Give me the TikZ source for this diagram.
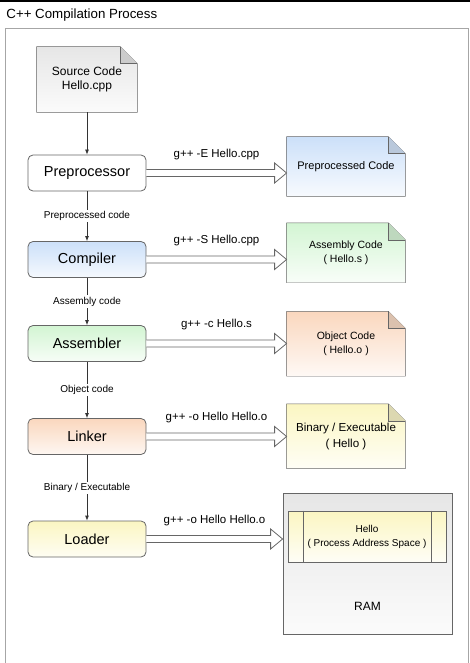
\documentclass[tikz,border=0pt]{standalone}
\usepackage{fontspec}
\setmainfont{Liberation Sans}
\usetikzlibrary{arrows.meta}
\usetikzlibrary{positioning}
\usetikzlibrary{calc}
\usetikzlibrary{backgrounds}

\definecolor{edge}{HTML}{666666}
\definecolor{grayT}{HTML}{E6E6E6}
\definecolor{blueT}{HTML}{CCE0F9}
\definecolor{greenT}{HTML}{D3F5D3}
\definecolor{orangeT}{HTML}{FAD7BE}
\definecolor{yellowT}{HTML}{FBF6C2}

% body of a note, drawn behind its text
\newcommand{\notebody}[2]{%
  \path[draw=edge, top color=#2, bottom color=#2!15!white]
    (#1.north west) -- ([xshift=-17pt]#1.north east) -- ([yshift=-17pt]#1.north east)
    -- (#1.south east) -- (#1.south west) -- cycle;
  \path[draw=edge, fill=#2!75!gray]
    ([xshift=-17pt]#1.north east) -- ([xshift=-17pt,yshift=-17pt]#1.north east)
    -- ([yshift=-17pt]#1.north east);
}
% hollow arrow with its command
\newcommand{\flowarrow}[3]{%
  \draw[draw=edge, fill=white] let \p1=(#1.east), \p2=(#2.west) in
    (\x1,\y1+3.5pt) -- (\x2-12pt,\y1+3.5pt) -- (\x2-12pt,\y1+10pt) -- (\x2,\y1)
    -- (\x2-12pt,\y1-10pt) -- (\x2-12pt,\y1-3.5pt) -- (\x1,\y1-3.5pt);
  \path (#1.east) -- (#1.east -| #2.west) node[midway, above=13pt, cmd] {#3};
}

\begin{document}
\begin{tikzpicture}[x=1pt,y=-1pt,line width=0.8pt,
  stage/.style={draw=edge, rounded corners=5pt, minimum width=118pt, minimum height=36pt,
    font=\fontsize{14.5}{17}\selectfont},
  doc/.style={minimum width=118pt, align=center, font=\fontsize{10.5}{13.5}\selectfont},
  link/.style={-{Latex[length=5pt,width=4pt]}, draw=black!80},
  lbl/.style={fill=white, inner sep=1.5pt, font=\fontsize{10}{12}\selectfont},
  cmd/.style={inner sep=0pt, font=\fontsize{11.5}{13}\selectfont}]
	\useasboundingbox (0,0) rectangle (470,663);

	% frame and title
	\draw[line width=2pt] (0,1) -- (470,1);
	\node[anchor=west, inner sep=0pt, font=\fontsize{13.3}{15}\selectfont] (title) at (6,15) {C++ Compilation Process};
	\draw[gray!70] (5.5,666) -- (5.5,28) -- (468,28) -- (468,666);

	% stages
	\node[doc, minimum width=100pt, minimum height=65pt, font=\fontsize{12}{14}\selectfont] (src) at (87,79.5) {Source Code\\Hello.cpp};
	\node[stage, fill=white] (pre) at (87,173) {Preprocessor};
	\node[stage, top color=blueT, bottom color=blueT!20!white] (comp) at (87,259.5) {Compiler};
	\node[stage, top color=greenT, bottom color=greenT!20!white] (asm) at (87,343.5) {Assembler};
	\node[stage, top color=orangeT, bottom color=orangeT!20!white] (lnk) at (87,436.5) {Linker};
	\node[stage, top color=yellowT, bottom color=yellowT!20!white] (load) at (87,539) {Loader};

	% outputs
	\node[doc, minimum height=59pt, font=\fontsize{11}{13}\selectfont] (ppc) at (346,166.5) {Preprocessed Code};
	\node[doc, minimum height=59pt] (asc) at (346,252.8) {Assembly Code\\( Hello.s )};
	\node[doc, minimum height=64pt] (obj) at (346,343.8) {Object Code\\( Hello.o )};
	\node[doc, minimum height=64pt, font=\fontsize{11.6}{16}\selectfont] (bin) at (346,436.2) {Binary / Executable\\( Hello )};

	\node[draw=edge, top color=grayT, bottom color=grayT!15!white, minimum width=169pt, minimum height=141pt] (ram) at (367.5,563.5) {};
	\node[font=\fontsize{12}{14}\selectfont, inner sep=0pt, above=23.5pt of ram.south] (ramlbl) {RAM};
	\node[draw=edge, top color=yellowT, bottom color=yellowT!15!white, minimum width=158pt, minimum height=51pt,
	  align=center, font=\fontsize{10}{14}\selectfont] (hello) at (367,536.5) {Hello\\( Process Address Space )};
	\draw[edge] ([xshift=16pt]hello.north west) -- ([xshift=16pt]hello.south west);
	\draw[edge] ([xshift=-15pt]hello.north east) -- ([xshift=-15pt]hello.south east);

	% flow down the stages
	\draw[link] (src) -- (pre);
	\draw[link] (pre) -- (comp) node[midway, lbl] {Preprocessed code};
	\draw[link] (comp) -- (asm) node[midway, lbl] {Assembly code};
	\draw[link] (asm) -- (lnk) node[midway, lbl] {Object code};
	\draw[link] (lnk) -- (load) node[midway, lbl] {Binary / Executable};

	% commands
	\flowarrow{pre}{ppc}{g++ -E Hello.cpp}
	\flowarrow{comp}{asc}{g++ -S Hello.cpp}
	\flowarrow{asm}{obj}{g++ -c Hello.s}
	\flowarrow{lnk}{bin}{g++ -o Hello Hello.o}
	\flowarrow{load}{ram}{g++ -o Hello Hello.o}

	\begin{scope}[on background layer]
		\notebody{src}{grayT}
		\notebody{ppc}{blueT}
		\notebody{asc}{greenT}
		\notebody{obj}{orangeT}
		\notebody{bin}{yellowT}
	\end{scope}
\end{tikzpicture}
\end{document}
